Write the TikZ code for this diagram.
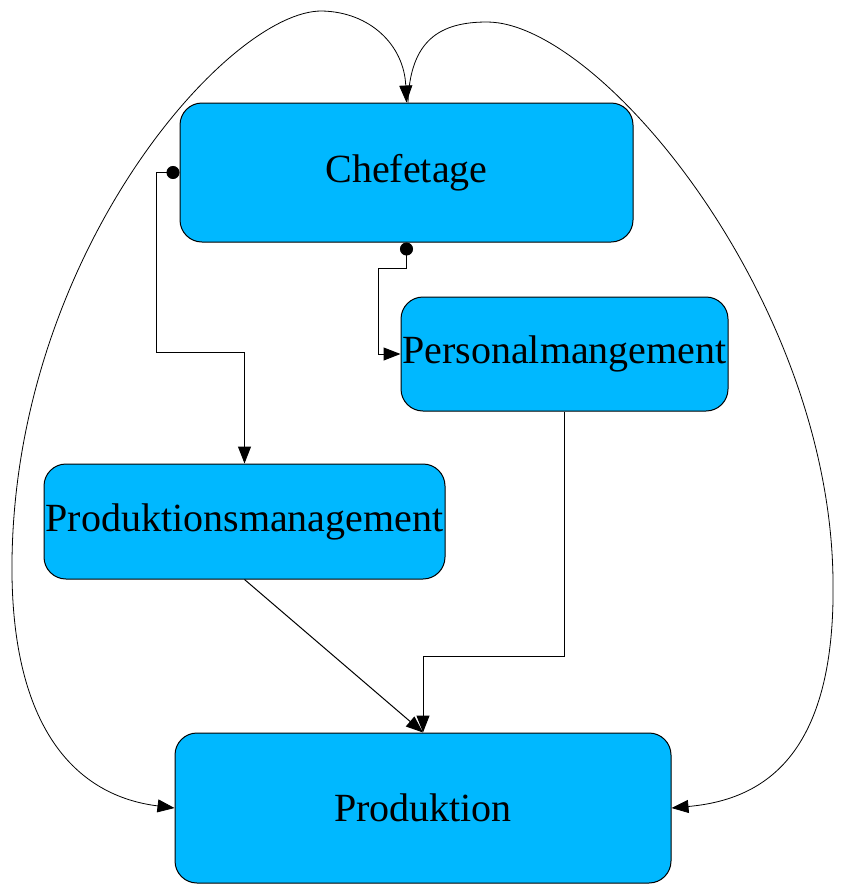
\documentclass[tikz,border=0pt]{standalone}
\usepackage{fontspec}
\setmainfont{Liberation Serif}
\usetikzlibrary{arrows.meta}
\definecolor{boxblue}{RGB}{0,184,255}
\begin{document}
\begin{tikzpicture}[x=1pt,y=-1pt,
  box/.style={draw=black,line width=1pt,fill=boxblue,rounded corners=22pt,inner sep=0pt,
    font=\fontsize{40}{48}\selectfont},
  conn/.style={line width=1pt,-{Triangle[length=17pt,width=13pt]}},
  dotconn/.style={line width=1pt,{Circle[length=13pt]}-{Triangle[length=17pt,width=13pt]}}]
\useasboundingbox (0,0) rectangle (845,884);
\node[box,minimum width=453pt,minimum height=139pt] (C) at (406.5,172.5) {Chefetage};
\node[box,minimum width=327pt,minimum height=114pt] (PG) at (564.5,354) {Personalmangement};
\node[box,minimum width=401pt,minimum height=115pt] (PM) at (244.5,521.5) {Produktionsmanagement};
\node[box,minimum width=496pt,minimum height=150pt] (P) at (423,808) {Produktion};
% orthogonal connectors
\draw[dotconn] (C.west) -- (156,172.5) -- (156,352) -- (244.5,352) -- (PM.north);
\draw[dotconn] (C.south) -- (406.5,268) -- (378,268) |- (PG.west);
\draw[conn] (PM.south) -- (P.north);
\draw[conn] (PG.south) -- (564.5,656) -| (P.north);
% curved connectors
\draw[line width=0.8pt,{Triangle[length=17pt,width=13pt]}-{Triangle[length=17pt,width=13pt]}]
  (C.north) .. controls (404,45) and (370,12) .. (322,11)
  .. controls (230,10) and (16,250) .. (12,560)
  .. controls (10,720) and (70,795) .. (P.west);
\draw[line width=0.8pt,-{Triangle[length=17pt,width=13pt]}]
  ([xshift=1.5pt]C.north) .. controls (410,40) and (440,22) .. (487,22)
  .. controls (600,22) and (830,300) .. (833,580)
  .. controls (836,760) and (760,800) .. (P.east);
\end{tikzpicture}
\end{document}
